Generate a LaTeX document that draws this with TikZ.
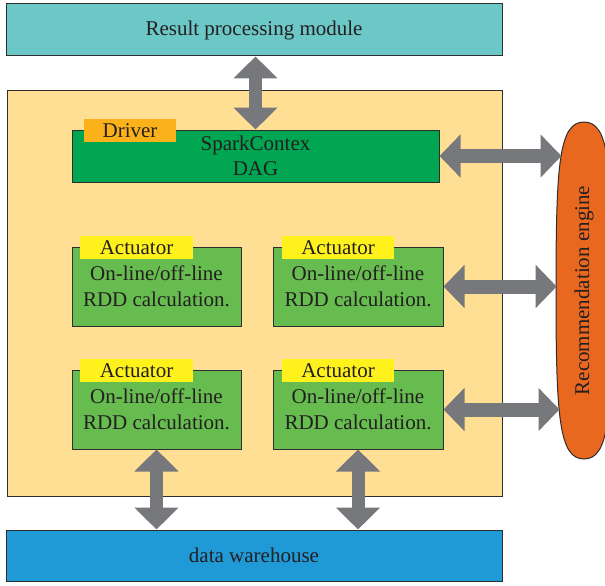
\documentclass[tikz,border=0pt]{standalone}
\usepackage{fontspec}
\setmainfont{Liberation Serif}
\usetikzlibrary{arrows.meta}

\definecolor{ink}{HTML}{231F20}
\definecolor{edge}{HTML}{2E2E2E}
\definecolor{teal}{HTML}{6CC8C6}
\definecolor{cream}{HTML}{FFDF94}
\definecolor{darkgreen}{HTML}{00A651}
\definecolor{leaf}{HTML}{66BC4E}
\definecolor{tagyellow}{HTML}{FFF21C}
\definecolor{tagorange}{HTML}{FBB21A}
\definecolor{sky}{HTML}{1F9AD6}
\definecolor{pumpkin}{HTML}{E8681F}
\definecolor{arrowgray}{HTML}{77787B}

\tikzset{
  box/.style={draw=edge, line width=1pt, inner sep=0pt, text=ink, align=center,
              font=\fontsize{21}{25.5}\selectfont},
  tag/.style={inner sep=0pt, text=ink, font=\fontsize{21}{25}\selectfont},
  vlink/.style={draw=arrowgray, line width=13pt,
                {Triangle[width=43pt,length=22pt]}-{Triangle[width=43pt,length=22pt]}},
  hlink/.style={draw=arrowgray, line width=14pt,
                {Triangle[width=42pt,length=21pt]}-{Triangle[width=42pt,length=21pt]}},
}

\begin{document}
\begin{tikzpicture}[x=1pt,y=-1pt]
\useasboundingbox (0,0) rectangle (605,586);
\clip (0,0) rectangle (605,586);

% outer blocks
\node[box, fill=teal, minimum width=496pt, minimum height=52pt] (result) at (254,30)
  {Result processing module};
\node[box, fill=cream, minimum width=495pt, minimum height=406pt] (core) at (254.5,293) {};
\node[box, fill=sky, minimum width=496pt, minimum height=51pt] (warehouse) at (254,555.5)
  {data warehouse};

% driver
\node[box, fill=darkgreen, minimum width=367pt, minimum height=52pt] (driver) at (255.5,156)
  {SparkContex\\DAG};
\node[tag, fill=tagorange, minimum width=92pt, minimum height=23pt] (drivertag) at (130,130.5)
  {Driver};

% actuators
\node[box, fill=leaf, minimum width=169pt, minimum height=79pt] (act1) at (156.5,286.5)
  {On-line/off-line\\RDD calculation.};
\node[box, fill=leaf, minimum width=170pt, minimum height=79pt] (act2) at (358,286.5)
  {On-line/off-line\\RDD calculation.};
\node[box, fill=leaf, minimum width=169pt, minimum height=79pt] (act3) at (156.5,409.5)
  {On-line/off-line\\RDD calculation.};
\node[box, fill=leaf, minimum width=170pt, minimum height=79pt] (act4) at (358,409.5)
  {On-line/off-line\\RDD calculation.};

\node[tag, fill=tagyellow, minimum width=113pt, minimum height=23pt] (tag1) at (136.5,247.5) {Actuator};
\node[tag, fill=tagyellow, minimum width=112pt, minimum height=23pt] (tag2) at (338,247.5) {Actuator};
\node[tag, fill=tagyellow, minimum width=113pt, minimum height=23pt] (tag3) at (136.5,370.5) {Actuator};
\node[tag, fill=tagyellow, minimum width=112pt, minimum height=23pt] (tag4) at (338,370.5) {Actuator};

% recommendation engine: tall rounded capsule
\draw[fill=pumpkin, draw=edge, line width=1pt]
  (584,122) .. controls (559,122) and (556,164) .. (556,290.5)
            .. controls (556,417) and (559,459) .. (584,459)
            .. controls (609,459) and (612,417) .. (612,290.5)
            .. controls (612,164) and (609,122) .. cycle;
\node[text=ink, rotate=90, inner sep=0pt, font=\fontsize{21}{25}\selectfont] (engine) at (584,290.5)
  {Recommendation engine};
\coordinate (engineA) at (561.5,156);
\coordinate (engineB) at (556.7,286.5);
\coordinate (engineC) at (559.5,409.5);

% data-flow arrows
\draw[vlink] (result.south -| driver.north) -- (driver.north);
\draw[hlink] (driver.east) -- (engineA);
\draw[hlink] (act2.east) -- (engineB);
\draw[hlink] (act4.east) -- (engineC);
\draw[vlink] (act3.south) -- (act3.south |- warehouse.north);
\draw[vlink] (act4.south) -- (act4.south |- warehouse.north);
\end{tikzpicture}
\end{document}
